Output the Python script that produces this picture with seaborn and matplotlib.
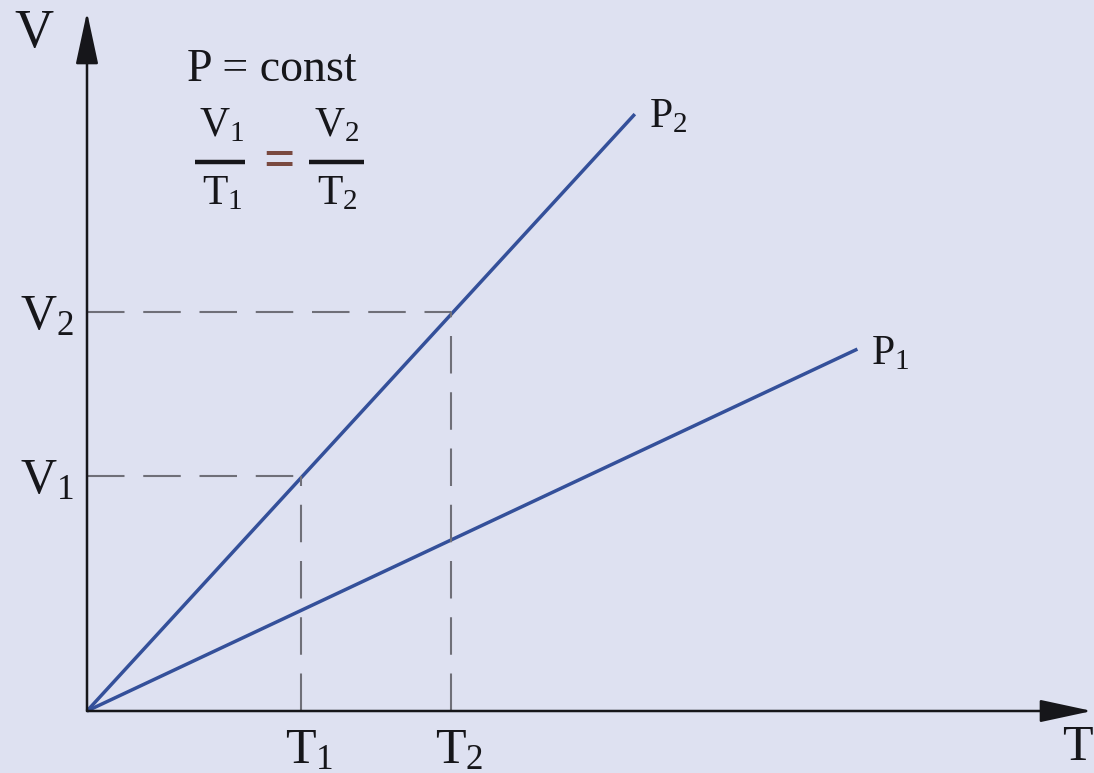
import matplotlib
matplotlib.use("Agg")
import matplotlib.pyplot as plt
import seaborn as sns
import pandas as pd

# Charles's law diagram, values in arbitrary units
state_temps = [1.0, 1.7]          # T1, T2
state_vols = [1.0, 1.7]           # V1, V2
p2_temps = [0.0, 2.56]
p2_vols = [0.0, 2.54]
p1_temps = [0.0, 3.60]
p1_vols = [0.0, 1.54]
t_labels = ["T$_1$", "T$_2$"]
v_labels = ["V$_1$", "V$_2$"]

bg = "#dee1f1"
blue = "#34509a"
grey = "#6f6f78"
dark = "#16161a"

sns.set_theme(style="white", rc={"axes.facecolor": bg, "figure.facecolor": bg})
plt.rcParams["font.family"] = ["Liberation Serif", "DejaVu Serif"]
plt.rcParams["mathtext.fontset"] = "custom"
plt.rcParams["mathtext.rm"] = "Liberation Serif"
plt.rcParams["mathtext.it"] = "Liberation Serif:italic"

W, H = 1094, 773
fig = plt.figure(figsize=(W / 100, H / 100), dpi=100)
ax = fig.add_axes([0, 0, 1, 1])
# origin at pixel (87, 711); 214 px per T unit, 235 px per V unit
ax.set_xlim(-87 / 214, (W - 87) / 214)
ax.set_ylim(-(H - 711) / 235, 711 / 235)
ax.set_axis_off()


def px(x, y):
    return (x / W, 1 - y / H)


lines = pd.concat([
    pd.DataFrame({"T": p2_temps, "V": p2_vols, "P": "P2"}),
    pd.DataFrame({"T": p1_temps, "V": p1_vols, "P": "P1"}),
])
sns.lineplot(data=lines, x="T", y="V", units="P", estimator=None,
             color=blue, lw=2.5, ax=ax, solid_capstyle="butt")

# dashed guides
for t, v in zip(state_temps, state_vols):
    ax.plot([0, t], [v, v], color=grey, lw=1.5, dashes=(18, 9))
    ax.plot([t, t], [0, v], color=grey, lw=1.5, dashes=(18, 9))

# axes with arrows
arrow = dict(arrowstyle="-|>,head_length=0.65,head_width=0.14", color=dark,
             lw=1.8, mutation_scale=50, shrinkA=0, shrinkB=0)
ax.annotate("", xy=(0, (711 - 12) / 235), xytext=(0, 0), arrowprops=arrow,
            annotation_clip=False)
ax.annotate("", xy=((1092 - 87) / 214, 0), xytext=(0, 0), arrowprops=arrow,
            annotation_clip=False)

fs = 36
ax.text(*px(34, 34), "V", transform=ax.transAxes, fontsize=39, ha="center",
        va="center", color=dark)
ax.text(*px(1093, 748), "T", transform=ax.transAxes, fontsize=fs, ha="right",
        va="center", color=dark)

for t, lab in zip(state_temps, t_labels):
    ax.text(t + 8 / 214, -40 / 235, lab, fontsize=fs, ha="center",
            va="center", color=dark)
for v, lab in zip(state_vols, v_labels):
    ax.text(-13 / 214, v - 5 / 235, lab, fontsize=fs, ha="right",
            va="center", color=dark)

ax.text(p2_temps[-1] + 14 / 214, p2_vols[-1] - 3 / 235, "P$_2$", fontsize=30,
        ha="left", va="center", color=dark)
ax.text(p1_temps[-1] + 14 / 214, p1_vols[-1] - 5 / 235, "P$_1$", fontsize=30,
        ha="left", va="center", color=dark)

ax.text(*px(272, 70), "P = const", transform=ax.transAxes, fontsize=33,
        ha="center", va="center", color=dark)

# V1/T1 = V2/T2, built from numerator, bar and denominator
for cx, num, den, x0, x1 in [(222, "V$_1$", "T$_1$", 195, 245),
                             (337, "V$_2$", "T$_2$", 309, 364)]:
    ax.text(*px(cx, 126), num, transform=ax.transAxes, fontsize=30,
            ha="center", va="center", color=dark)
    ax.text(*px(cx, 194), den, transform=ax.transAxes, fontsize=30,
            ha="center", va="center", color=dark)
    ax.plot([x0 / W, x1 / W], [1 - 162 / H] * 2, transform=ax.transAxes,
            color=dark, lw=3.2, solid_capstyle="butt")
ax.text(*px(279, 163), "=", transform=ax.transAxes, fontsize=40,
        ha="center", va="center", color="#7a4a40", fontweight="bold")

fig.savefig("out.png", dpi=100, facecolor=bg)
